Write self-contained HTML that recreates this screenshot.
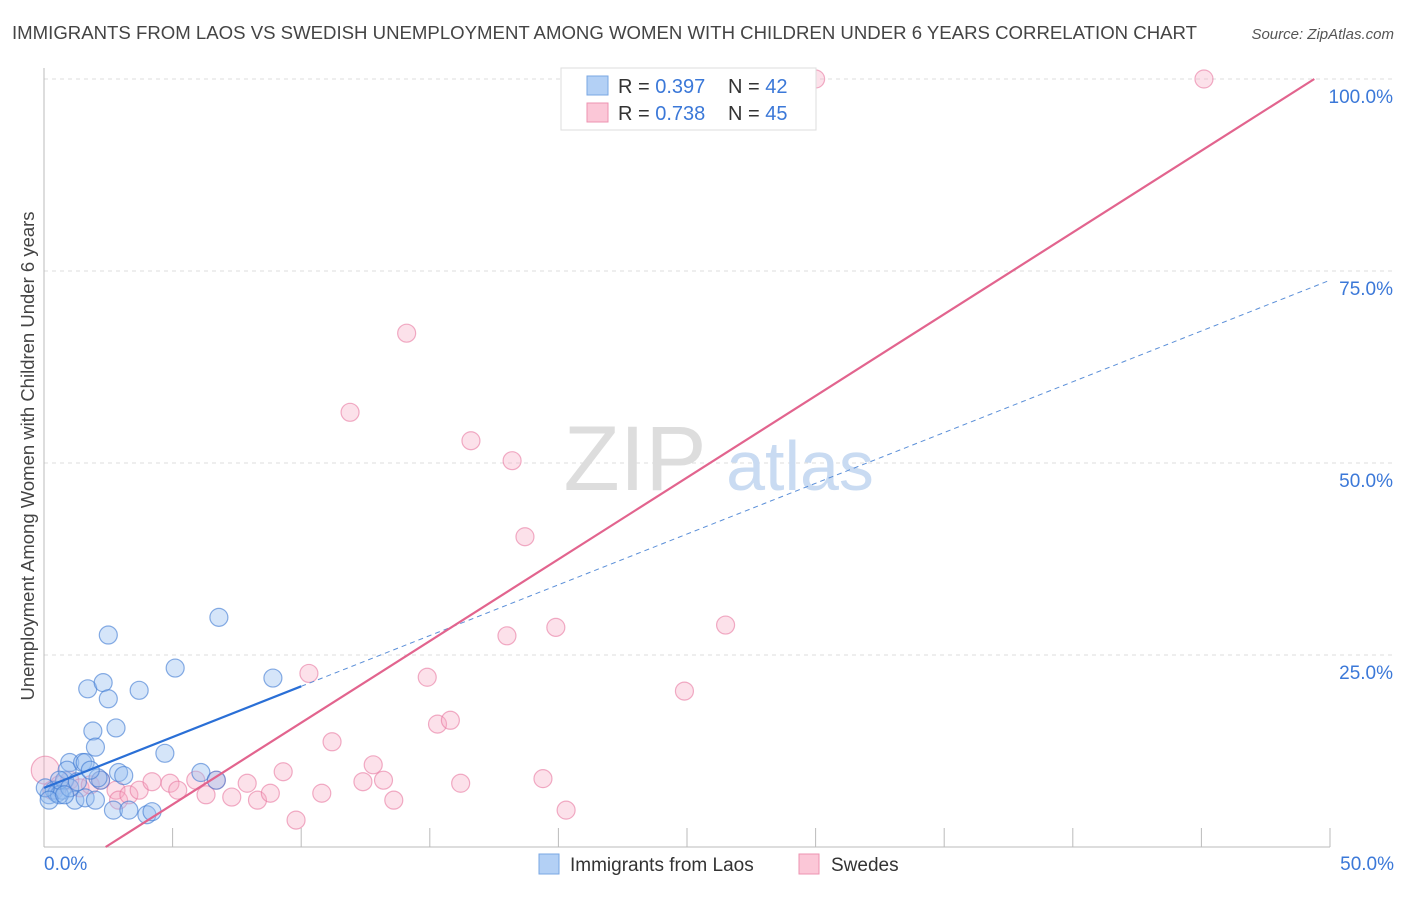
<!DOCTYPE html>
<html><head><meta charset="utf-8"><style>
body{margin:0;background:#fff;font-family:"Liberation Sans",sans-serif;}
svg text{font-family:"Liberation Sans",sans-serif;}
</style></head><body>
<svg id="chart" width="1406" height="892" xmlns="http://www.w3.org/2000/svg">
<text x="12" y="39" font-size="18.5" fill="#444" textLength="1185" lengthAdjust="spacingAndGlyphs">IMMIGRANTS FROM LAOS VS SWEDISH UNEMPLOYMENT AMONG WOMEN WITH CHILDREN UNDER 6 YEARS CORRELATION CHART</text>
<text x="1394" y="39" font-size="15" fill="#555" text-anchor="end" font-style="italic">Source: ZipAtlas.com</text>
<text transform="translate(34,456) rotate(-90)" font-size="18.5" fill="#444" text-anchor="middle">Unemployment Among Women with Children Under 6 years</text>
<g id="grid"></g>
<g><text x="635" y="490" font-size="92" fill="#ddd" text-anchor="middle" font-family="Liberation Serif,serif">ZIP</text><text x="800" y="490" font-size="70" fill="#c9dbf2" text-anchor="middle">atlas</text></g>
<g id="marks"></g>
<g>
<rect x="561" y="68" width="255" height="62" fill="#fff" stroke="#ddd"/>
<rect x="587" y="76" width="21" height="19" fill="#b3d0f5" stroke="#7aa7e3"/>
<rect x="587" y="103" width="21" height="19" fill="#fbc7d7" stroke="#ee93b1"/>
<text x="618" y="93" font-size="20" fill="#333">R = <tspan fill="#3b78d8">0.397</tspan></text>
<text x="728" y="93" font-size="20" fill="#333">N = <tspan fill="#3b78d8">42</tspan></text>
<text x="618" y="120" font-size="20" fill="#333">R = <tspan fill="#3b78d8">0.738</tspan></text>
<text x="728" y="120" font-size="20" fill="#333">N = <tspan fill="#3b78d8">45</tspan></text>
</g>
<g>
<rect x="539" y="854" width="20" height="20" fill="#b3d0f5" stroke="#7aa7e3"/>
<text x="570" y="871" font-size="19" fill="#333">Immigrants from Laos</text>
<rect x="799" y="854" width="20" height="20" fill="#fbc7d7" stroke="#ee93b1"/>
<text x="831" y="871" font-size="19" fill="#333">Swedes</text>
</g>
</svg>
<script>
const xTicks=[0,5,10,15,20,25,30,35,40,45,50];
const yTicks=[25,50,75,100];
const blueX=[0.2,0.4,0.5,0.7,0.8,1.0,0.9,1.2,1.5,1.6,1.7,1.9,2.0,2.3,2.5,2.5,2.8,2.9,3.1,2.2,2.7,3.3,3.7,4.7,5.1,4.0,4.2,6.1,6.7,6.8,8.9,0.6,1.6,2.0,0.6,1.0,1.3,2.1,0.05,0.2,0.8,1.8];
const blueY=[6.8,7.4,7.0,7.4,8.7,11.0,10.0,6.1,11.0,11.0,20.6,15.1,13.0,21.4,19.3,27.6,15.5,9.7,9.3,8.7,4.8,4.8,20.4,12.2,23.3,4.2,4.6,9.7,8.7,29.9,22.0,6.8,6.4,6.1,8.7,7.7,8.5,9.0,7.7,6.1,6.8,10.0];
const pinkX=[0.05,0.3,0.6,1.0,1.4,1.8,2.2,2.8,2.9,3.3,3.7,4.2,4.9,5.2,5.9,6.3,6.7,7.3,7.9,8.3,8.8,9.3,9.8,10.3,10.8,11.2,12.4,12.8,13.2,13.6,14.1,11.9,14.9,15.3,15.8,16.2,16.6,18.2,18.7,18.0,19.9,19.4,20.3,24.9,26.5,30.0,45.1];
const pinkY=[10.0,7.4,8.1,8.7,7.7,8.1,8.7,7.4,6.1,6.8,7.4,8.5,8.3,7.4,8.7,6.8,8.7,6.5,8.3,6.1,7.0,9.8,3.5,22.6,7.0,13.7,8.5,10.7,8.7,6.1,66.9,56.6,22.1,16.0,16.5,8.3,52.9,50.3,40.4,27.5,28.6,8.9,4.8,20.3,28.9,100,100];
const blueFit=[7.7,73.8];
const pinkFit=[-5.1,2.128];
const svg=document.getElementById('chart');
const NS='http://www.w3.org/2000/svg';
const X=v=>44+v*25.72, Y=v=>847-v*7.68;
function mk(t,a,p){const e=document.createElementNS(NS,t);for(const k in a)e.setAttribute(k,a[k]);(p||svg).appendChild(e);return e;}
const grid=document.getElementById('grid'), marks=document.getElementById('marks');
yTicks.forEach(v=>{
 const l=mk('line',{x1:44,x2:1394,y1:Y(v),y2:Y(v),stroke:'#ddd','stroke-dasharray':'4,4'},grid);
 
 
 const t=mk('text',{x:1393,y:Y(v)+24,'font-size':19,fill:'#3b78d8','text-anchor':'end'},grid);t.textContent=v.toFixed(1)+'%';
 
 
});
mk('line',{x1:44,x2:44,y1:68,y2:847,stroke:'#bbb'},grid);
mk('line',{x1:44,x2:1330,y1:847,y2:847,stroke:'#bbb'},grid);
xTicks.forEach(v=>{if(v>0){const l=mk('line',{x1:X(v),x2:X(v),y1:828,y2:847,stroke:'#bbb'},grid);
 
 }});
[[0,'start',44],[50,'end',1394]].forEach(([v,a,x])=>{const t=mk('text',{x:x,y:870,'font-size':19,fill:'#3b78d8','text-anchor':a},grid);t.textContent=v.toFixed(1)+'%';
 
 });
pinkX.forEach((v,i)=>{const c=mk('circle',{cx:X(v),cy:Y(pinkY[i]),r:i==0?14:9,fill:'rgba(247,170,195,0.35)',stroke:'rgba(232,120,160,0.6)','stroke-width':1.2},marks);
 
 });
blueX.forEach((v,i)=>{const c=mk('circle',{cx:X(v),cy:Y(blueY[i]),r:9,fill:'rgba(150,190,240,0.4)',stroke:'rgba(60,120,210,0.6)','stroke-width':1.2},marks);
 
 });
const by=x=>blueFit[0]+(blueFit[1]-blueFit[0])*x/50;
let l1=mk('line',{x1:X(10),y1:Y(by(10)),x2:X(50),y2:Y(by(50)),stroke:'#5b8fd8','stroke-width':1,'stroke-dasharray':'5,4'},marks);


let l2=mk('line',{x1:X(0),y1:Y(by(0)),x2:X(10),y2:Y(by(10)),stroke:'#2a6fd6','stroke-width':2.2},marks);


const px0=-pinkFit[0]/pinkFit[1], px1=(100-pinkFit[0])/pinkFit[1];
let l3=mk('line',{x1:X(px0),y1:Y(0),x2:X(px1),y2:Y(100),stroke:'#e2648e','stroke-width':2.2},marks);


</script>
</body></html>
